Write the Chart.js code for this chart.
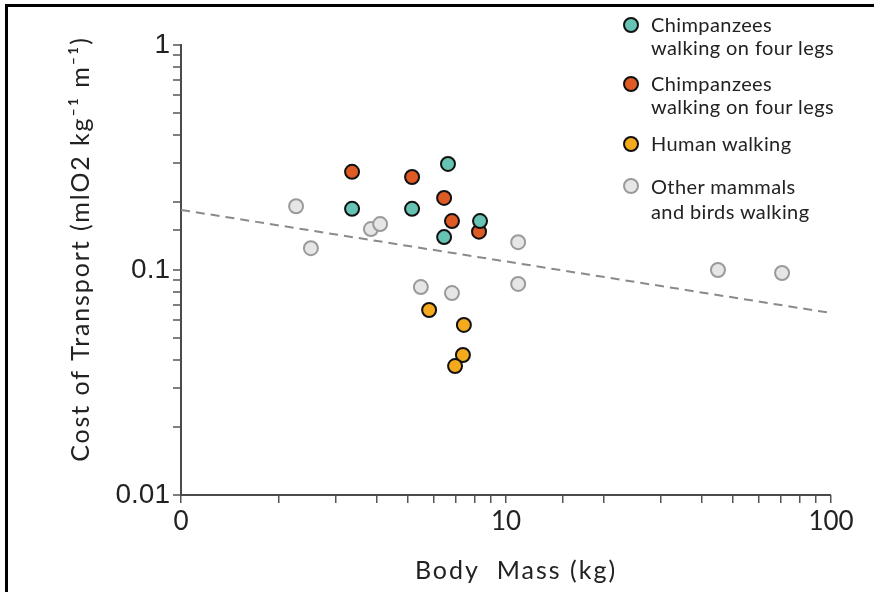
<!DOCTYPE html>
<html>
<head>
<meta charset="utf-8">
<script src="https://cdn.jsdelivr.net/npm/chart.js@4"></script>
<style>
  body { margin: 0; background: #fff; }
  #wrap { position: relative; width: 874px; height: 592px; overflow: hidden; }
  #frame { position: absolute; left: 5px; top: 4px; width: 900px; height: 600px;
           border-left: 3px solid #000; border-top: 3px solid #000; }
  #legend { position: absolute; left: 0; top: 0; font-family: Lato, sans-serif; font-size: 20px; letter-spacing: 0.4px; color: #222; }
  .item { position: absolute; left: 623px; }
  .dot { position: absolute; left: 0; width: 12px; height: 12px; border-radius: 50%; border: 2px solid #111; }
  .txt { position: absolute; left: 28px; white-space: nowrap; line-height: 23px; }
</style>
</head>
<body>
<div id="wrap">
  <canvas id="grafico" width="874" height="592"></canvas>
  <div id="frame"></div>
  <div id="legend"></div>
</div>
<script>
// series values (body mass kg, cost of transport)
const chimpQuadX = [3.36, 5.14, 6.63, 6.45, 8.32];
const chimpQuadY = [0.187, 0.187, 0.296, 0.140, 0.165];
const chimpBipX = [3.36, 5.14, 6.45, 6.82, 8.26];
const chimpBipY = [0.273, 0.259, 0.209, 0.165, 0.148];
const humanX = [5.80, 7.42, 7.37, 6.97];
const humanY = [0.0664, 0.0570, 0.0419, 0.0374];
const otherX = [2.26, 2.51, 3.84, 4.10, 5.47, 6.82, 10.9, 10.9, 44.9, 70.7];
const otherY = [0.192, 0.125, 0.152, 0.160, 0.084, 0.079, 0.133, 0.0867, 0.100, 0.097];
const trendX = [1, 100];
const trendY = [0.185, 0.0644];

const seriesNames = [
  ['Chimpanzees', 'walking on four legs'],
  ['Chimpanzees', 'walking on four legs'],
  ['Human walking'],
  ['Other mammals', 'and birds walking']
];
const xTickValues = [1, 10, 100];
const xTickLabels = ['0', '10', '100'];
const yTickValues = [0.01, 0.1, 1];
const yTickLabels = ['0.01', '0.1', '1'];
const xTitle = 'Body  Mass (kg)';
const yTitle = 'Cost of Transport (mlO2 kg\u207B\u00B9 m\u207B\u00B9)';

const pares = (xs, ys) => xs.map((x, i) => ({x: x, y: ys[i]}));

const estilos = [
  {fill: '#67c3b4', border: '#111'},
  {fill: '#df5b25', border: '#111'},
  {fill: '#f5aa1d', border: '#111'},
  {fill: '#e6e6e6', border: '#9a9a9a'}
];
const datosSeries = [
  pares(chimpQuadX, chimpQuadY),
  pares(chimpBipX, chimpBipY),
  pares(humanX, humanY),
  pares(otherX, otherY)
];

const datasets = datosSeries.map((d, i) => ({
  label: seriesNames[i].join(' '),
  data: d,
  showLine: false,
  pointRadius: 7,
  pointHoverRadius: 7,
  pointBorderWidth: 2,
  pointBackgroundColor: estilos[i].fill,
  pointBorderColor: estilos[i].border
}));
datasets.push({
  label: 'trend',
  data: pares(trendX, trendY),
  showLine: true,
  pointRadius: 0,
  borderColor: '#8a8a8a',
  borderWidth: 2,
  borderDash: [9, 6],
  fill: false
});

const etiqueta = (valores, textos) => (v) => {
  const k = valores.findIndex(t => Math.abs(Math.log10(t) - Math.log10(v)) < 1e-6);
  return k >= 0 ? textos[k] : '';
};
// la linea del eje x sale de la linea de rejilla de y en 0.01
const esBase = (c) => c.tick && Math.abs(Math.log10(c.tick.value) + 2) < 1e-6;

// titulos dibujados a mano para colocarlos igual que en la figura
const titulos = {
  id: 'titulos',
  afterDraw(chart) {
    const ctx = chart.ctx;
    ctx.save();
    ctx.fillStyle = '#222';
    ctx.font = '25px Lato, sans-serif';
    ctx.textAlign = 'center';
    ctx.textBaseline = 'middle';
    ctx.letterSpacing = '2px';
    ctx.fillText(xTitle, 516, 571);
    ctx.letterSpacing = '1.9px';
    ctx.translate(81, 249);
    ctx.rotate(-Math.PI / 2);
    ctx.fillText(yTitle, 0, 0);
    ctx.restore();
  }
};

const ctx = document.getElementById('grafico').getContext('2d');
const grafico = new Chart(ctx, {
  type: 'scatter',
  data: { datasets: datasets },
  options: {
    responsive: false,
    animation: false,
    devicePixelRatio: 1,
    layout: { padding: { top: 45, right: 43, left: 0, bottom: 0 } },
    plugins: { legend: { display: false }, tooltip: { enabled: false } },
    scales: {
      x: {
        type: 'logarithmic',
        min: 1, max: 100,
        afterFit: (s) => { s.height = 97; },
        border: { display: false },
        grid: { drawOnChartArea: false, drawTicks: true, tickLength: 8, color: '#555', lineWidth: 1.5 },
        ticks: {
          autoSkip: false, maxRotation: 0, padding: 3, color: '#222',
          font: { family: 'Lato, sans-serif', size: 26 },
          callback: etiqueta(xTickValues, xTickLabels)
        }
      },
      y: {
        type: 'logarithmic',
        min: 0.01, max: 1,
        afterFit: (s) => { s.width = 181; },
        border: { color: '#4a4a4a', width: 2 },
        grid: {
          drawOnChartArea: true, drawTicks: true, tickLength: 8,
          color: (c) => esBase(c) ? '#4a4a4a' : 'rgba(0,0,0,0)',
          lineWidth: (c) => esBase(c) ? 2 : 0,
          tickColor: '#555', tickWidth: 1.5
        },
        ticks: {
          autoSkip: false, padding: 3, color: '#222',
          font: { family: 'Liberation Sans, sans-serif', size: 28 },
          callback: etiqueta(yTickValues, yTickLabels)
        }
      }
    }
  },
  plugins: [titulos]
});

// leyenda en HTML
const centrosLeyenda = [25, 84, 144, 186];
const leyenda = document.getElementById('legend');
seriesNames.forEach((lineas, i) => {
  const item = document.createElement('div');
  item.className = 'item';
  item.style.top = (centrosLeyenda[i] - 12.5) + 'px';
  const dot = document.createElement('div');
  dot.className = 'dot';
  dot.style.top = '4.5px';
  dot.style.background = estilos[i].fill;
  dot.style.borderColor = estilos[i].border;
  const txt = document.createElement('div');
  txt.className = 'txt';
  txt.innerHTML = lineas.join('<br>');
  if (i === 3) txt.style.lineHeight = '25px';
  item.appendChild(dot);
  item.appendChild(txt);
  leyenda.appendChild(item);
});
</script>
</body>
</html>
